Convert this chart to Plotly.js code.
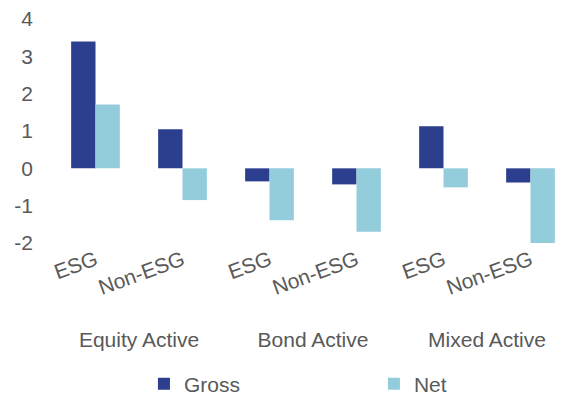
<!DOCTYPE html>
<html>
<head>
<meta charset="utf-8">
<script src="https://cdn.plot.ly/plotly-3.0.1.min.js"></script>
<style>html,body{margin:0;padding:0;background:#fff;}#chart{width:579px;height:396px;}</style>
</head>
<body>
<div id="chart"></div>
<script>
var groups = ["Equity Active","Equity Active","Bond Active","Bond Active","Mixed Active","Mixed Active"];
var fundTypes = ["ESG","Non-ESG","ESG","Non-ESG","ESG","Non-ESG"];
var gross = [3.40, 1.05, -0.35, -0.43, 1.13, -0.38];
var net = [1.71, -0.85, -1.39, -1.70, -0.51, -2.06];
var yTicks = [-2, -1, 0, 1, 2, 3, 4];

var textColor = "#595959";
var fontFam = "Liberation Sans, Arial, sans-serif";

var traces = [
  {type: "bar", name: "Gross", x: [groups, fundTypes], y: gross,
   marker: {color: "#2C3F8F", line: {width: 0}}},
  {type: "bar", name: "Net", x: [groups, fundTypes], y: net,
   marker: {color: "#93CDDC", line: {width: 0}}}
];

var layout = {
  width: 579, height: 396,
  margin: {l: 52, r: 5, t: 19, b: 153},
  paper_bgcolor: "#ffffff", plot_bgcolor: "#ffffff",
  font: {family: fontFam, size: 21, color: textColor},
  barmode: "group", bargap: 0.44, bargroupgap: 0,
  showlegend: true,
  legend: {orientation: "h", xref: "container", yref: "container",
           x: 0.2486, xanchor: "left", y: 0.03, yanchor: "middle",
           entrywidth: 185, entrywidthmode: "pixels",
           font: {family: fontFam, size: 21, color: textColor}},
  xaxis: {type: "multicategory", tickangle: -20, showdividers: false,
          showline: false, showgrid: false, zeroline: false,
          ticks: "outside", ticklen: 4, tickcolor: "rgba(0,0,0,0)",
          tickfont: {family: fontFam, size: 21, color: textColor}},
  yaxis: {range: [-2, 4], tickvals: yTicks, ticktext: yTicks.map(String),
          showgrid: false, zeroline: false, showline: false, ticks: "",
          ticklabelstandoff: 18,
          tickfont: {family: fontFam, size: 21, color: textColor}}
};

Plotly.newPlot("chart", traces, layout, {displayModeBar: false, staticPlot: true});
</script>
</body>
</html>
